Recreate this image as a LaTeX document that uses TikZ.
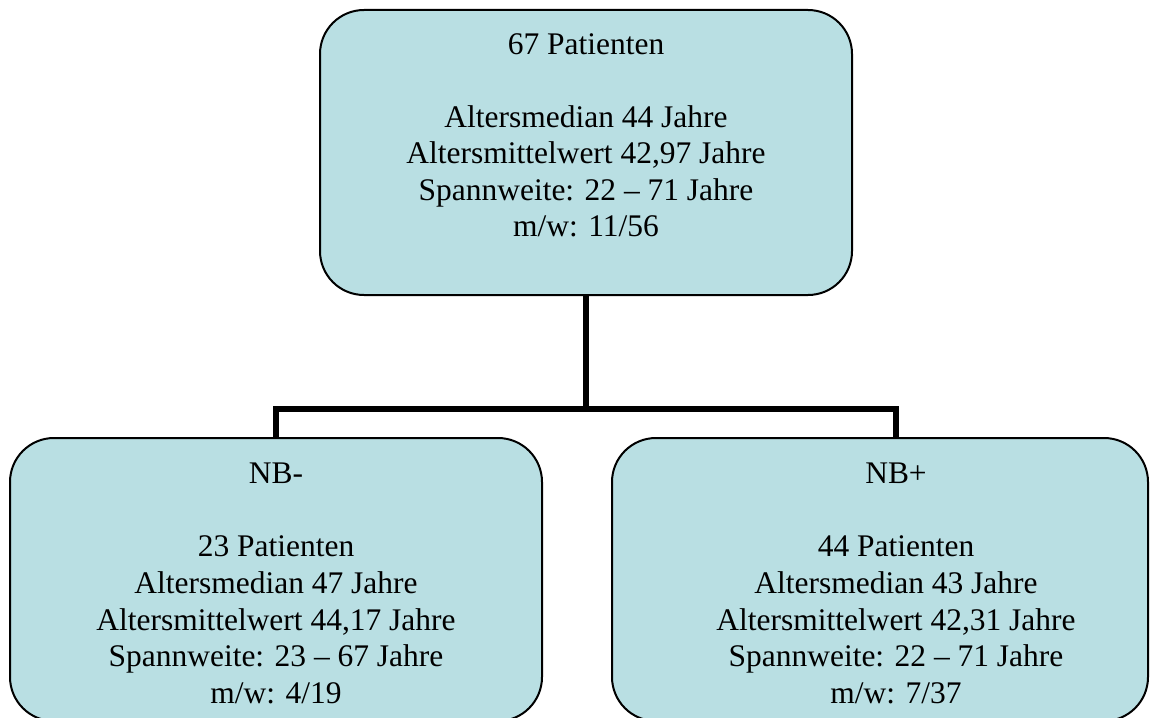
\documentclass[tikz,border=0pt]{standalone}
\usepackage{fontspec}
\setmainfont{Liberation Serif}
\definecolor{boxfill}{RGB}{185,223,227}
\begin{document}
\begin{tikzpicture}[x=0.75pt,y=-0.75pt,
  box/.style={draw=black, line width=1.5pt, fill=boxfill, rounded corners=33pt, inner sep=0pt, rectangle},
  txt/.style={inner sep=0pt, align=center, anchor=north, font=\fontsize{23.6}{27.4}\selectfont},
  conn/.style={draw=black, line width=4.5pt, line join=miter}]
\useasboundingbox (0,0) rectangle (1155,717);
\node[box, minimum width=399pt, minimum height=213.75pt] (top) at (586,152.5) {};
\node[box, minimum width=399pt, minimum height=212.25pt] (left) at (276,579.5) {};
\node[box, minimum width=402pt, minimum height=212.25pt] (right) at (880,579.5) {};
\coordinate (j) at (586,409);
\coordinate (rtop) at (896,438);
\draw[conn] (top.south) -- (j);
\draw[conn] (left.north) |- (j) -| (rtop);
\node[txt] (toptext) at (586,33) {67 Patienten\\[27.4pt]Altersmedian 44 Jahre\\Altersmittelwert 42,97 Jahre\\Spannweite: 22 -- 71 Jahre\\m/w: 11/56};
\node[txt] (lefttext) at (276,463) {NB-\\[27.4pt]23 Patienten\\Altersmedian 47 Jahre\\Altersmittelwert 44,17 Jahre\\Spannweite: 23 -- 67 Jahre\\m/w: 4/19};
\node[txt] (righttext) at (896,463) {NB+\\[27.4pt]44 Patienten\\Altersmedian 43 Jahre\\Altersmittelwert 42,31 Jahre\\Spannweite: 22 -- 71 Jahre\\m/w: 7/37};
\end{tikzpicture}
\end{document}
